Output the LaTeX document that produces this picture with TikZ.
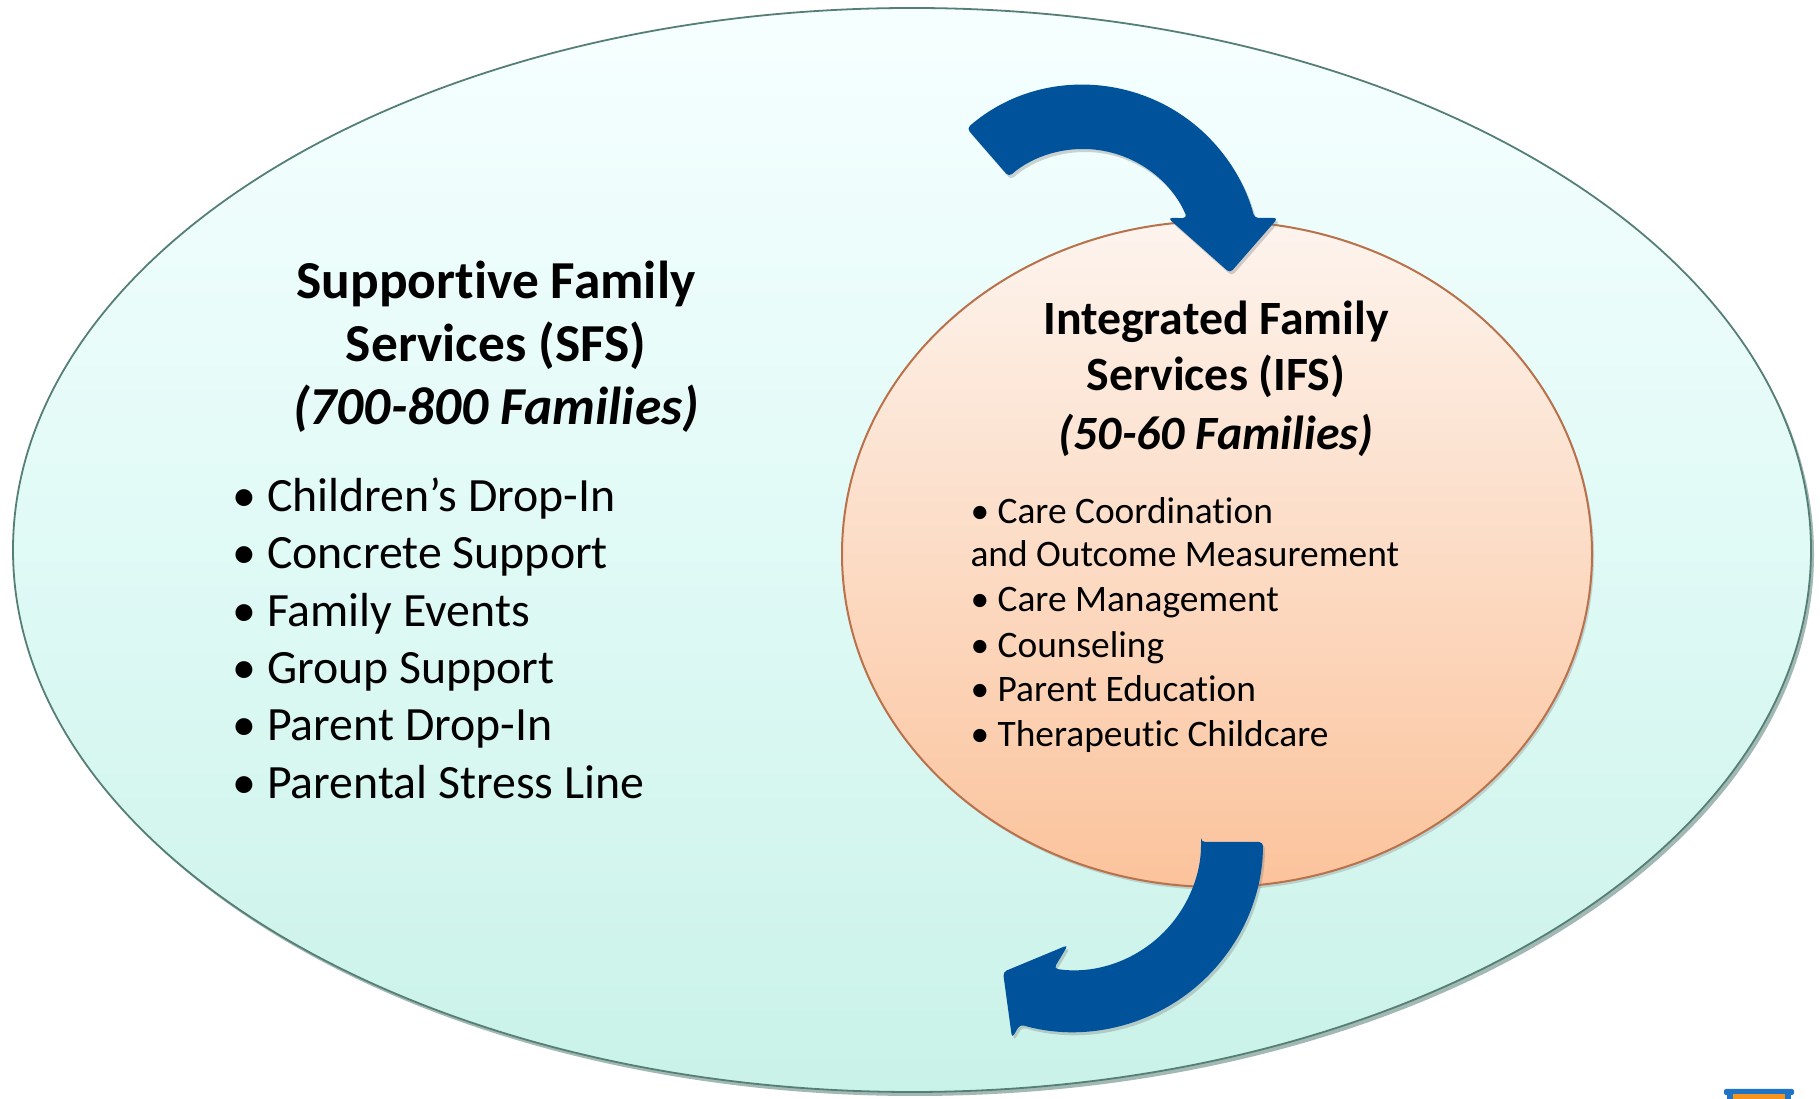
\documentclass[tikz,border=0pt]{standalone}
\usepackage{fontspec}
\setmainfont{Carlito}[Ligatures=NoCommon]
\usetikzlibrary{shapes.geometric,calc,shadows}
\definecolor{arrowblue}{HTML}{00529B}
\definecolor{outertop}{HTML}{F6FFFF}
\definecolor{outermid}{HTML}{E0FAF6}
\definecolor{outerbot}{HTML}{C9F2E8}
\definecolor{outerline}{HTML}{557F75}
\definecolor{innertop}{HTML}{FDF4EE}
\definecolor{innerbot}{HTML}{FBC39C}
\definecolor{innerline}{HTML}{B8714A}
\definecolor{iconblue}{HTML}{1F74C8}
\definecolor{iconorange}{HTML}{F7941D}
\tikzset{
  sfstitle/.style={anchor=base, font=\fontsize{53.4}{64}\selectfont\bfseries},
  sfsitem/.style={anchor=base west, font=\fontsize{47.8}{57}\selectfont},
  ifstitle/.style={anchor=base, font=\fontsize{47.8}{57}\selectfont\bfseries},
  ifsitem/.style={anchor=base west, font=\fontsize{37.4}{45}\selectfont},
  bigarrow/.style={fill=arrowblue, rounded corners=4pt,
    drop shadow={opacity=0.35, shadow xshift=2pt, shadow yshift=-3pt}},
}
\begin{document}
\begin{tikzpicture}[x=1pt,y=1pt]
\useasboundingbox (0,0) rectangle (1820,1099);
% outer ellipse
\node[ellipse, inner sep=0pt, minimum width=1798pt, minimum height=1084pt,
  draw=outerline, line width=1.8pt, top color=outertop, bottom color=outerbot,
  middle color=outermid,
  drop shadow={opacity=0.55, shadow xshift=3pt, shadow yshift=-4pt, fill=outerline}] (outer) at (912,549) {};
% inner ellipse
\node[ellipse, inner sep=0pt, minimum width=750pt, minimum height=666pt,
  draw=innerline, line width=2pt, top color=innertop, bottom color=innerbot,
  drop shadow={opacity=0.3, shadow xshift=2pt, shadow yshift=-3pt}] (inner) at (1217,545) {};
% SFS text
\node[sfstitle] (s1) at (496,800) {Supportive Family};
\node[sfstitle] (s2) at (496,737) {Services (SFS)};
\node[sfstitle] (s3) at (496,674) {\itshape (700-800 Families)};
\node[sfsitem] (a1) at (229,587) {• Children’s Drop-In};
\node[sfsitem] (a2) at (229,530) {• Concrete Support};
\node[sfsitem] (a3) at (229,472) {• Family Events};
\node[sfsitem] (a4) at (229,415) {• Group Support};
\node[sfsitem] (a5) at (229,358) {• Parent Drop-In};
\node[sfsitem] (a6) at (229,300) {• Parental Stress Line};
% IFS text
\node[ifstitle] (i1) at (1216,764) {Integrated Family};
\node[ifstitle] (i2) at (1216,708) {Services (IFS)};
\node[ifstitle] (i3) at (1216,649) {\itshape (50-60 Families)};
\node[ifsitem] (b1) at (967,575) {• Care Coordination};
\node[ifsitem] (b1b) at (967,532) {and Outcome Measurement};
\node[ifsitem] (b2) at (967,487) {• Care Management};
\node[ifsitem] (b3) at (967,441) {• Counseling};
\node[ifsitem] (b4) at (967,397) {• Parent Education};
\node[ifsitem] (b5) at (967,352) {• Therapeutic Childcare};
% top arrow
\coordinate (c1) at (1083,837);
\path[bigarrow] ($(c1)+(131:177)$) arc[start angle=131, end angle=14.4, radius=177]
  -- (1278,881) -- (1230,826) -- (1168,881)
  -- ($(c1)+(22.9:113)$) arc[start angle=22.9, end angle=131, radius=113] -- cycle;
% bottom arrow
\coordinate (c2) at (1073,257);
\path[bigarrow] ($(c2)+(0:128)$) -- ($(c2)+(0:190)$)
  arc[start angle=0, end angle=-106.2, radius=190]
  -- (1012,61) -- (1003,127) -- (1068,154)
  -- ($(c2)+(-98.6:128)$) arc[start angle=-98.6, end angle=0, radius=128] -- cycle;
% small icon at bottom right
\fill[iconblue, rounded corners=2pt] (1724,4) rectangle (1794,10);
\fill[iconblue] (1727,0) rectangle (1791,6);
\fill[iconorange] (1733,0) rectangle (1785,5);
\end{tikzpicture}
\end{document}
